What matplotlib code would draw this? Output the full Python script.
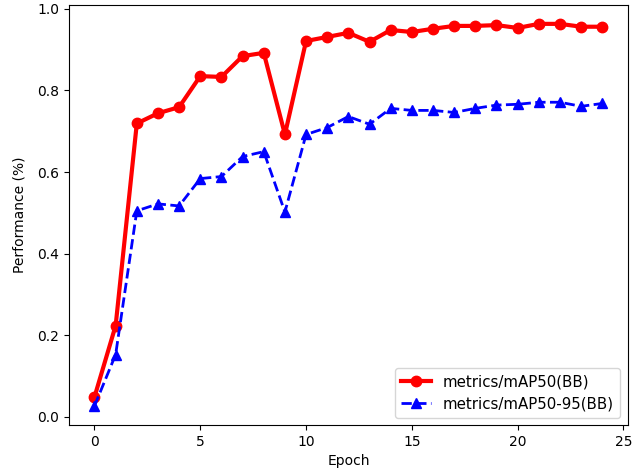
import matplotlib
matplotlib.use('Agg')
import matplotlib.pyplot as plt

epochs = list(range(25))
map50 = [0.049, 0.224, 0.719, 0.744, 0.759, 0.835, 0.833, 0.884, 0.892, 0.692,
         0.921, 0.931, 0.941, 0.919, 0.948, 0.943, 0.951, 0.958, 0.958, 0.960,
         0.953, 0.963, 0.963, 0.956, 0.956]
map50_95 = [0.027, 0.153, 0.505, 0.522, 0.517, 0.584, 0.589, 0.638, 0.650, 0.502,
            0.692, 0.709, 0.736, 0.717, 0.756, 0.751, 0.751, 0.746, 0.756, 0.764,
            0.766, 0.771, 0.771, 0.761, 0.768]

fig = plt.figure(figsize=(6.34, 4.76), dpi=100)
ax = fig.add_subplot(111)
fig.subplots_adjust(left=0.109, right=0.99, top=0.99, bottom=0.107)

ax.plot(epochs, map50, color='red', linestyle='-', marker='o', linewidth=3,
        markersize=7.5, label='metrics/mAP50(BB)')
ax.plot(epochs, map50_95, color='blue', linestyle='--', marker='^', linewidth=2,
        markersize=7, label='metrics/mAP50-95(BB)')

ax.set_xlabel('Epoch')
ax.set_ylabel('Performance (%)', labelpad=8)
ax.set_xticks([0, 5, 10, 15, 20, 25])
ax.legend(loc='lower right', fontsize=10.8)

plt.savefig('out.png', dpi=100)
